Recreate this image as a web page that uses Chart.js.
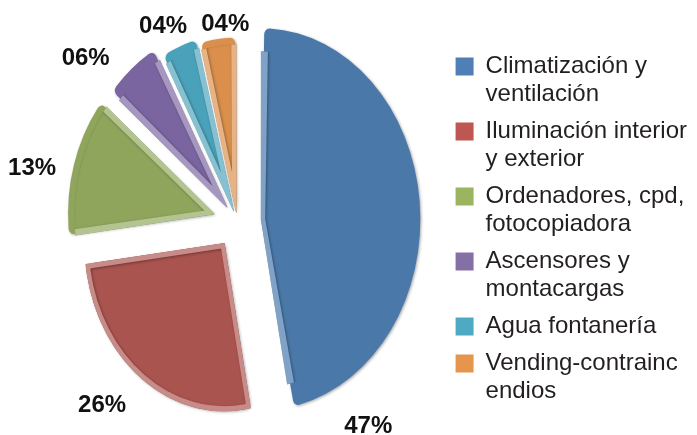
<!DOCTYPE html>
<html>
<head>
<meta charset="utf-8">
<script src="https://cdn.jsdelivr.net/npm/chart.js@4.4.0/dist/chart.umd.min.js"></script>
<style>
  html, body { margin: 0; padding: 0; background: #fff; }
  #wrap { width: 697px; height: 435px; }
</style>
</head>
<body>
<div id="wrap"><canvas id="chart-consumo"></canvas></div>
<script>
const categories = [
  ['Climatización y', 'ventilación'],
  ['Iluminación interior', 'y exterior'],
  ['Ordenadores, cpd,', 'fotocopiadora'],
  ['Ascensores y', 'montacargas'],
  ['Agua fontanería'],
  ['Vending-contrainc', 'endios']
];
const percentages = [47, 26, 13, 6, 4, 4];
const percentLabels = ['47%', '26%', '13%', '06%', '04%', '04%'];

const sliceColors = ['#4a79a9', '#aa5450', '#8fa55b', '#7a65a0', '#4aa2ba', '#da904c'];
const rimColors = ['#80a2c6', '#c88b88', '#b4c490', '#a597c0', '#86c1d1', '#e8b384'];
const swatchColors = ['#4f7fb5', '#be5651', '#9bb45f', '#8470a5', '#4eaac3', '#e6964c'];

// pixels each slice is pulled out of the pie, and the vertical stretch of the pie
const pullOut = [24, 22, 24, 16, 10, 8];
const stretchY = 1.2;
// where the % label of each slice sits: fraction along the slice, gap past the rim
const labelAlong = [0.842, 0.559, 0.415, 0.111, 0.30, 0.71];
const labelGap = [75, 64, 70, 64, 39, 25];

const ctxEl = document.getElementById('chart-consumo');

const squashPlugin = {
  id: 'squash',
  beforeDatasetsDraw(chart) {
    const arc = chart.getDatasetMeta(0).data[0];
    const ctx = chart.ctx;
    ctx.save();
    ctx.translate(arc.x, arc.y);
    ctx.scale(1, stretchY);
    ctx.translate(-arc.x, -arc.y);
    ctx.shadowColor = 'rgba(0,0,0,0.35)';
    ctx.shadowBlur = 3;
    ctx.shadowOffsetX = 1;
    ctx.shadowOffsetY = 1;
  },
  afterDatasetsDraw(chart) {
    const ctx = chart.ctx;
    ctx.restore();
    const meta = chart.getDatasetMeta(0);
    ctx.save();
    ctx.font = 'bold 24px "Liberation Sans", Arial, sans-serif';
    ctx.fillStyle = '#111';
    ctx.textAlign = 'center';
    ctx.textBaseline = 'middle';
    meta.data.forEach((arc, i) => {
      const a = arc.startAngle + (arc.endAngle - arc.startAngle) * labelAlong[i];
      const d = arc.outerRadius + labelGap[i];
      ctx.fillText(percentLabels[i], arc.x + Math.cos(a) * d, arc.y + Math.sin(a) * d * stretchY);
    });
    ctx.restore();
  }
};

new Chart(ctxEl, {
  type: 'pie',
  data: {
    labels: categories,
    datasets: [{
      data: percentages,
      backgroundColor: sliceColors,
      borderColor: rimColors,
      borderWidth: 4,
      borderAlign: 'inner',
      borderRadius: 5,
      offset: pullOut.map(p => p * 4),
      clip: false
    }]
  },
  options: {
    responsive: true,
    maintainAspectRatio: false,
    animation: false,
    events: [],
    rotation: 0,
    radius: 140,
    layout: {
      padding: { left: 28, top: 9 }
    },
    plugins: {
      tooltip: { enabled: false },
      legend: {
        position: 'right',
        align: 'center',
        title: { display: true, text: ' ', padding: 0, font: { size: 18, lineHeight: 1 } },
        labels: {
          boxWidth: 18,
          boxHeight: 18,
          padding: 9,
          color: '#231f20',
          font: { family: '"Liberation Sans", Arial, sans-serif', size: 24, lineHeight: 28 / 24 },
          generateLabels(chart) {
            const items = Chart.overrides.pie.plugins.legend.labels.generateLabels(chart);
            items.forEach(item => {
              item.fillStyle = swatchColors[item.index];
              item.strokeStyle = 'transparent';
              item.lineWidth = 0;
            });
            return items;
          }
        }
      }
    }
  },
  plugins: [squashPlugin]
});
</script>
</body>
</html>
